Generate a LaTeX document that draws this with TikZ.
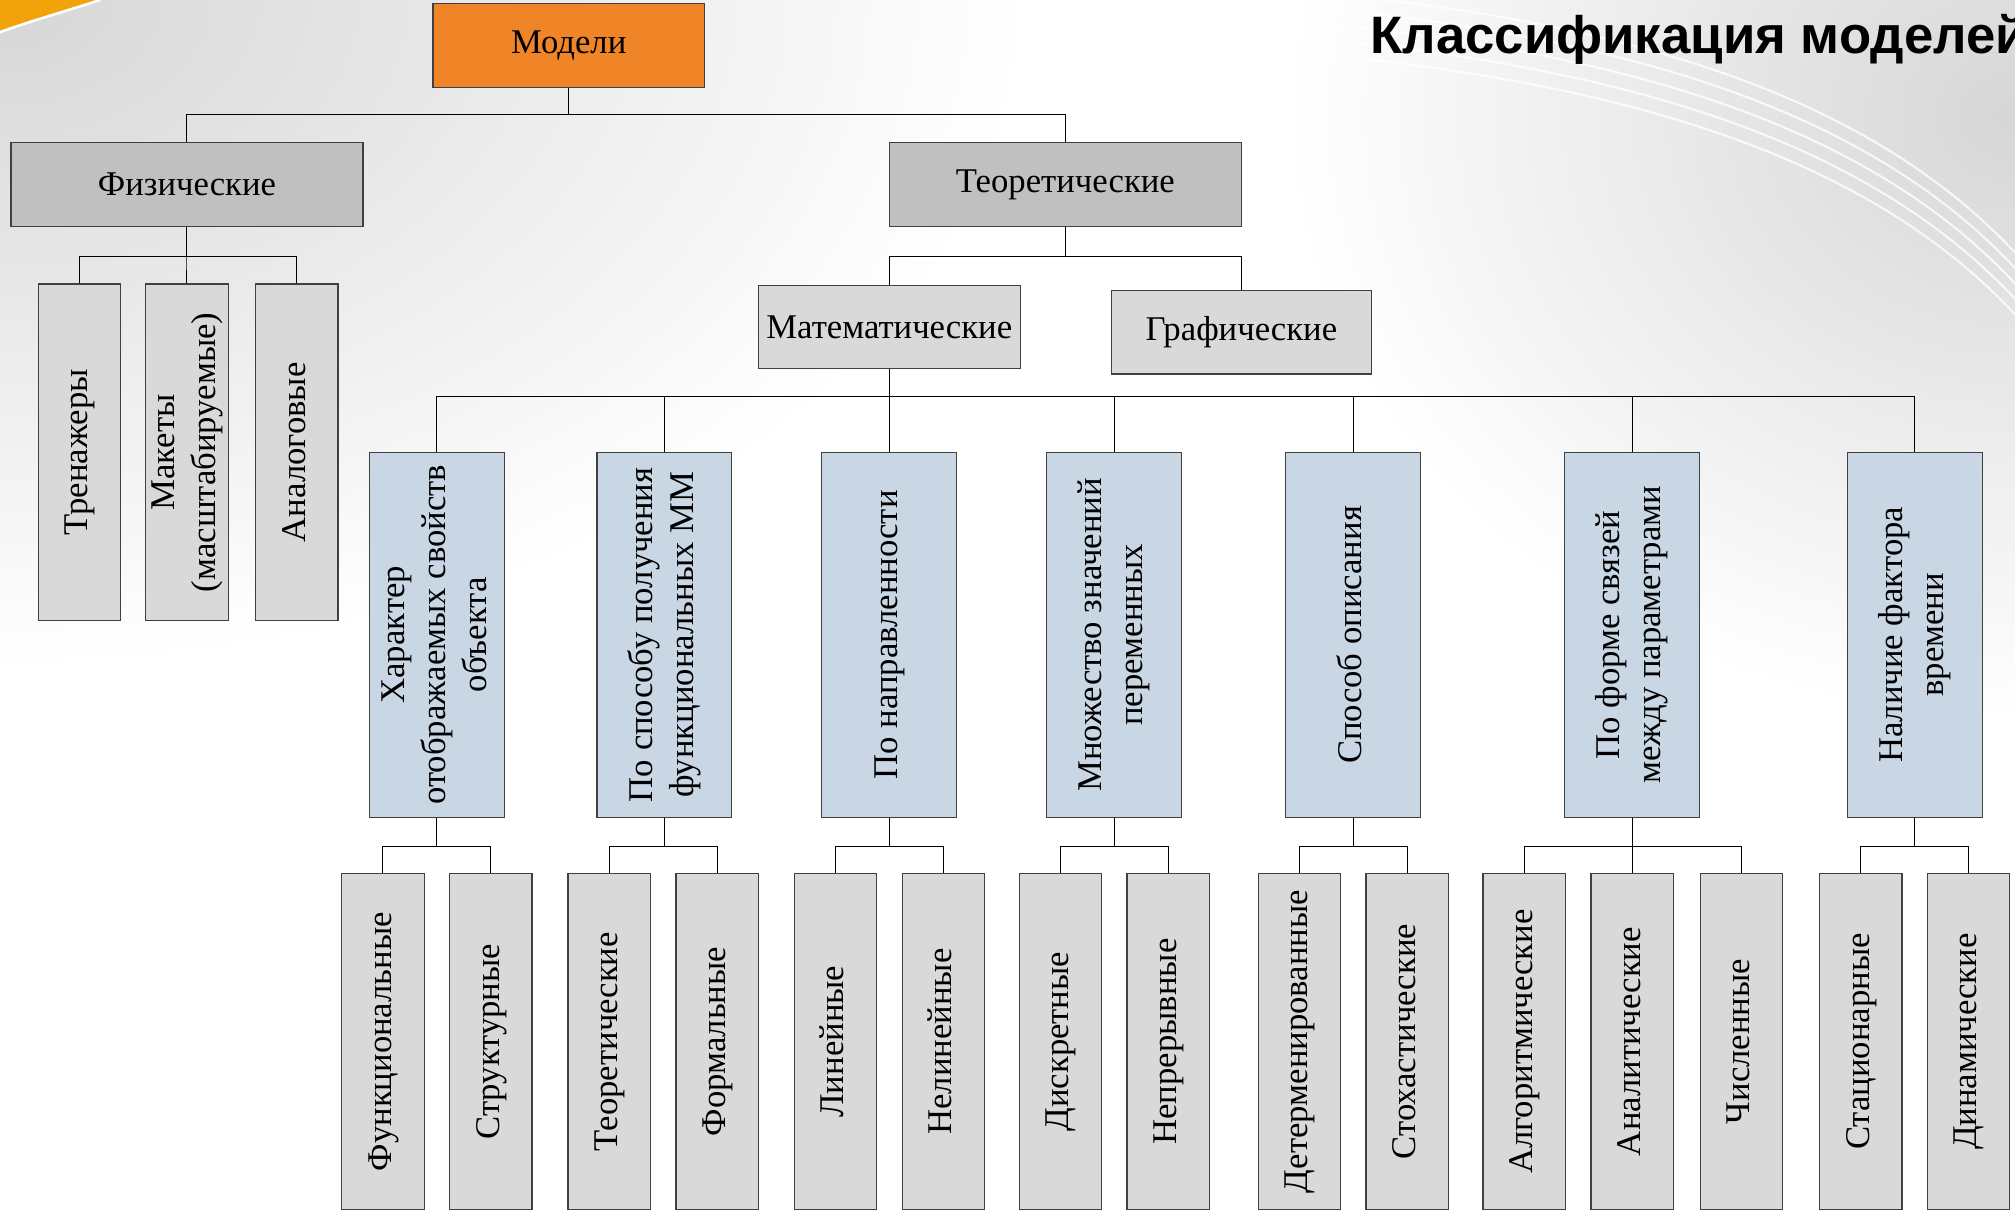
\documentclass[tikz,border=0pt]{standalone}
\usepackage{fontspec}
\setmainfont{Liberation Serif}
\newfontfamily\titlefont{Liberation Sans}
\usepackage{graphicx}
\usepackage{tikz}

\definecolor{modelorange}{RGB}{240,133,40}
\definecolor{cornerorange}{RGB}{243,163,10}
\definecolor{boxgrey}{RGB}{192,192,192}
\definecolor{lightgrey}{RGB}{217,217,217}
\definecolor{boxblue}{RGB}{201,214,228}

% rotated (bottom to top) box text
\newcommand{\vtext}[1]{\rotatebox{90}{\begin{tabular}{@{}c@{}}#1\end{tabular}}}

\begin{document}
\begin{tikzpicture}[x=1pt, y=-1pt, font=\fontsize{27}{32}\selectfont,
    box/.style={draw=black!75, line width=0.9pt, inner sep=0pt, align=center},
    catbox/.style={box, fill=boxgrey, minimum width=274pt, minimum height=65pt},
    subbox/.style={box, fill=lightgrey, minimum width=204pt, minimum height=65pt},
    critbox/.style={box, fill=boxblue, minimum width=105pt, minimum height=284pt},
    leafbox/.style={box, fill=lightgrey, minimum width=64pt, minimum height=262pt},
    link/.style={draw=black, line width=0.8pt}]

    % background of the slide
    \useasboundingbox (0,0) rectangle (1568,945);
    \clip (0,0) rectangle (1568,945);
    \fill[white] (0,0) rectangle (1568,945);
    \shade[inner color=black!16, outer color=white] (-800,-520) rectangle (800,520);
    \shade[inner color=black!16, outer color=white] (1000,-380) rectangle (2136,560);
    \foreach \d in {0,12,24,36,48}
        \draw[white, line width=1.6pt, opacity=0.8]
            (950,-12+\d) .. controls (1250,8+\d) and (1460,70+\d) .. (1580,210+\d);
    \fill[cornerorange] (0,0) -- (78,0) .. controls (50,9) and (22,17) .. (0,25) -- cycle;
    \draw[white, line width=2pt] (78,0) .. controls (50,9) and (22,17) .. (0,25);

    \node[anchor=base west, font=\titlefont\bfseries\fontsize{41}{41}\selectfont] (title)
        at (1063,42) {Классификация моделей};

    % tree
    \node[box, fill=modelorange, minimum width=211pt, minimum height=65pt] (M) at (442.5,35.5) {Модели};
    \node[catbox] (F) at (145.5,143.5) {Физические};
    \node[catbox] (T) at (829,143.5) {Теоретические};

    \node[leafbox] (F1) at (62,352) {\vtext{Тренажеры}};
    \node[leafbox] (F2) at (145.5,352) {\vtext{Макеты\\(масштабируемые)}};
    \node[leafbox] (F3) at (231,352) {\vtext{Аналоговые}};

    \node[subbox] (Ma) at (692,254.5) {Математические};
    \node[subbox, minimum width=202pt] (G) at (966,258.5) {Графические};

    \node[critbox] (B1) at (340,494) {\vtext{Характер\\отображаемых свойств\\объекта}};
    \node[critbox] (B2) at (517,494) {\vtext{По способу получения\\функциональных ММ}};
    \node[critbox] (B3) at (692,494) {\vtext{По направленности}};
    \node[critbox] (B4) at (867,494) {\vtext{Множество значений\\переменных}};
    \node[critbox] (B5) at (1053,494) {\vtext{Способ описания}};
    \node[critbox] (B6) at (1270,494) {\vtext{По форме связей\\между параметрами}};
    \node[critbox] (B7) at (1490,494) {\vtext{Наличие фактора\\времени}};

    \node[leafbox] (L1a) at (298,810.5) {\vtext{Функциональные}};
    \node[leafbox] (L1b) at (382,810.5) {\vtext{Структурные}};
    \node[leafbox] (L2a) at (474,810.5) {\vtext{Теоретические}};
    \node[leafbox] (L2b) at (558,810.5) {\vtext{Формальные}};
    \node[leafbox] (L3a) at (650,810.5) {\vtext{Линейные}};
    \node[leafbox] (L3b) at (734,810.5) {\vtext{Нелинейные}};
    \node[leafbox] (L4a) at (825,810.5) {\vtext{Дискретные}};
    \node[leafbox] (L4b) at (909,810.5) {\vtext{Непрерывные}};
    \node[leafbox] (L5a) at (1011,810.5) {\vtext{Детерменированные}};
    \node[leafbox] (L5b) at (1095,810.5) {\vtext{Стохастические}};
    \node[leafbox] (L6a) at (1186,810.5) {\vtext{Алгоритмические}};
    \node[leafbox] (L6b) at (1270,810.5) {\vtext{Аналитические}};
    \node[leafbox] (L6c) at (1355,810.5) {\vtext{Численные}};
    \node[leafbox] (L7a) at (1448,810.5) {\vtext{Стационарные}};
    \node[leafbox] (L7b) at (1532,810.5) {\vtext{Динамические}};

    % connectors
    \foreach \c in {F,T}
        \draw[link] (M.south) -- ++(0,21) -| (\c.north);
    \foreach \c in {F1,F2,F3}
        \draw[link] (F.south) -- ++(0,23) -| (\c.north);
    \foreach \c in {Ma,G}
        \draw[link] (T.south) -- ++(0,23) -| (\c.north);
    \foreach \c in {B1,B2,B3,B4,B5,B6,B7}
        \draw[link] (Ma.south) -- ++(0,21) -| (\c.north);
    \foreach \p/\c in {B1/L1a,B1/L1b,B2/L2a,B2/L2b,B3/L3a,B3/L3b,B4/L4a,B4/L4b,
                       B5/L5a,B5/L5b,B6/L6a,B6/L6b,B6/L6c,B7/L7a,B7/L7b}
        \draw[link] (\p.south) -- ++(0,22) -| (\c.north);
\end{tikzpicture}
\end{document}
